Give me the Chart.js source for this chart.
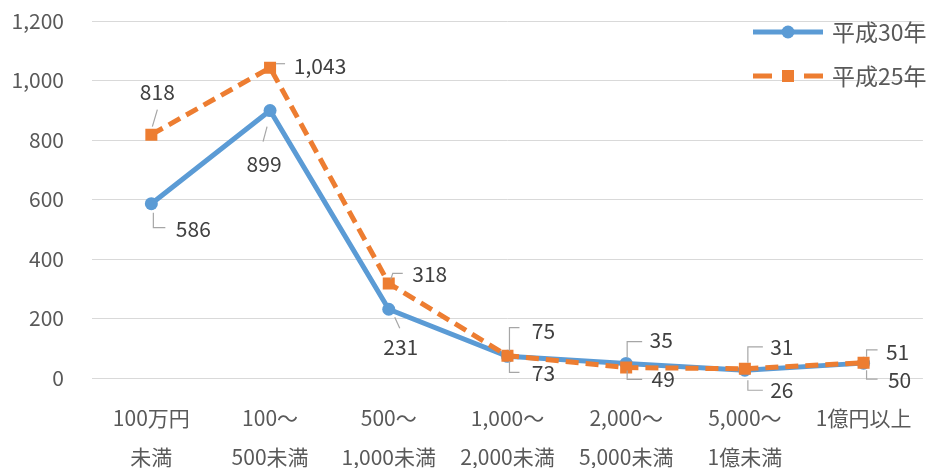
<!DOCTYPE html>
<html>
<head>
<meta charset="utf-8">
<script src="https://cdn.jsdelivr.net/npm/chart.js@4/dist/chart.umd.min.js"></script>
<style>
  html, body { margin: 0; padding: 0; background: #ffffff; }
  #wrap { width: 932px; height: 468px; }
</style>
</head>
<body>
<div id="wrap"><canvas id="c" width="932" height="468"></canvas></div>
<script>
// 資本金階級別の件数
const categories = [
  ['100万円', '未満'],
  ['100～', '500未満'],
  ['500～', '1,000未満'],
  ['1,000～', '2,000未満'],
  ['2,000～', '5,000未満'],
  ['5,000～', '1億未満'],
  ['1億円以上']
];
const seriesNames = ['平成30年', '平成25年'];
const valuesH30 = [586, 899, 231, 73, 49, 26, 50];
const valuesH25 = [818, 1043, 318, 75, 35, 31, 51];
const yTicks = [0, 200, 400, 600, 800, 1000, 1200];

const BLUE = '#5B9BD5';
const ORANGE = '#ED7D31';
const FONT = "'Noto Sans CJK JP', 'Noto Sans', sans-serif";

// ラベル位置（点からの相対位置）と引き出し線
const labelLayout = [
  [ // 平成30年
    { d: [42, 25],  leader: [[2, 9], [2, 24], [14, 24]] },
    { d: [-6, 53],  leader: [[-3, 16], [-7, 31]] },
    { d: [12, 38],  leader: [[6, 8], [11, 19]] },
    { d: [36, 17],  leader: [[2, 5], [2, 16], [12, 16]] },
    { d: [37, 16],  leader: [[1, 7], [1, 16], [16, 16]] },
    { d: [37, 20],  leader: [[3, 10], [3, 20], [18, 20]] },
    { d: [36, 17],  leader: [[3, 7], [3, 16], [14, 16]] }
  ],
  [ // 平成25年
    { d: [6, -43],  leader: [[1, -8], [6, -25]] },
    { d: [50, -2],  leader: [[6, -4], [15, -4]] },
    { d: [41, -9],  leader: [[2, -4], [4, -10], [14, -10]] },
    { d: [36, -25], leader: [[2, -5], [2, -28], [12, -28]] },
    { d: [35, -28], leader: [[1, -10], [1, -26], [16, -26]] },
    { d: [37, -22], leader: [[3, -6], [3, -22], [18, -22]] },
    { d: [34, -11], leader: [[3, -6], [3, -13], [14, -13]] }
  ]
];

const dataLabels = {
  id: 'dataLabels',
  afterDatasetsDraw(chart) {
    const ctx = chart.ctx;
    ctx.save();
    chart.data.datasets.forEach((ds, di) => {
      const meta = chart.getDatasetMeta(di);
      meta.data.forEach((pt, i) => {
        const spec = labelLayout[di][i];
        ctx.strokeStyle = '#A6A6A6';
        ctx.lineWidth = 1.2;
        ctx.beginPath();
        spec.leader.forEach((p, k) => {
          const x = pt.x + p[0], y = pt.y + p[1];
          if (k === 0) ctx.moveTo(x, y); else ctx.lineTo(x, y);
        });
        ctx.stroke();
        ctx.fillStyle = '#404040';
        ctx.font = '21px ' + FONT;
        ctx.textAlign = 'center';
        ctx.textBaseline = 'middle';
        ctx.fillText(ds.data[i].toLocaleString('en-US'), pt.x + spec.d[0], pt.y + spec.d[1]);
      });
    });
    ctx.restore();
  }
};

// 凡例（右上）
const legendBox = {
  id: 'legendBox',
  afterDraw(chart) {
    const ctx = chart.ctx;
    const items = [
      { y: 32, color: BLUE, segs: [[753, 823]], marker: 'circle' },
      { y: 76, color: ORANGE, segs: [[753, 772], [804, 823]], marker: 'rect' }
    ];
    ctx.save();
    items.forEach((it, i) => {
      ctx.strokeStyle = it.color;
      ctx.lineWidth = 5;
      ctx.beginPath();
      it.segs.forEach(s => {
        ctx.moveTo(s[0], it.y);
        ctx.lineTo(s[1], it.y);
      });
      ctx.stroke();
      ctx.fillStyle = it.color;
      ctx.beginPath();
      if (it.marker === 'circle') {
        ctx.arc(788, it.y, 6.5, 0, Math.PI * 2);
      } else {
        ctx.rect(782, it.y - 6, 12, 12);
      }
      ctx.fill();
      ctx.fillStyle = '#595959';
      ctx.font = '23px ' + FONT;
      ctx.textAlign = 'left';
      ctx.textBaseline = 'middle';
      ctx.fillText(seriesNames[i], 832, it.y);
    });
    ctx.restore();
  }
};

new Chart(document.getElementById('c'), {
  type: 'line',
  data: {
    labels: categories,
    datasets: [
      {
        label: seriesNames[0],
        data: valuesH30,
        borderColor: BLUE,
        backgroundColor: BLUE,
        borderWidth: 5,
        tension: 0,
        pointStyle: 'circle',
        pointRadius: 6.5,
        pointBorderWidth: 0,
        pointBackgroundColor: BLUE,
        order: 1
      },
      {
        label: seriesNames[1],
        data: valuesH25,
        borderColor: ORANGE,
        backgroundColor: ORANGE,
        borderWidth: 5,
        borderDash: [13, 7],
        tension: 0,
        pointStyle: 'rect',
        pointRadius: 8.5,
        pointBorderWidth: 0,
        pointBackgroundColor: ORANGE,
        order: 0
      }
    ]
  },
  options: {
    responsive: false,
    animation: false,
    devicePixelRatio: 1,
    layout: { padding: { top: 21, right: 8, left: 0, bottom: 0 } },
    plugins: {
      legend: { display: false },
      tooltip: { enabled: false }
    },
    scales: {
      x: {
        offset: true,
        grid: { display: false, drawTicks: false },
        border: { display: false },
        ticks: {
          color: '#595959',
          font: { family: FONT, size: 21, lineHeight: 1.86 },
          padding: 20,
          maxRotation: 0,
          autoSkip: false
        },
        afterFit(scale) { scale.height = 90; }
      },
      y: {
        min: 0,
        max: 1200,
        grid: { color: '#D9D9D9', lineWidth: 1, drawTicks: false },
        border: { display: false },
        afterBuildTicks(scale) { scale.ticks = yTicks.map(v => ({ value: v })); },
        ticks: {
          color: '#595959',
          font: { family: FONT, size: 21 },
          padding: 28,
          callback: v => v.toLocaleString('en-US')
        },
        afterFit(scale) {
          scale.width = 92;
          scale.paddingTop = 0;
          scale.paddingBottom = 0;
        }
      }
    }
  },
  plugins: [dataLabels, legendBox]
});
</script>
</body>
</html>
